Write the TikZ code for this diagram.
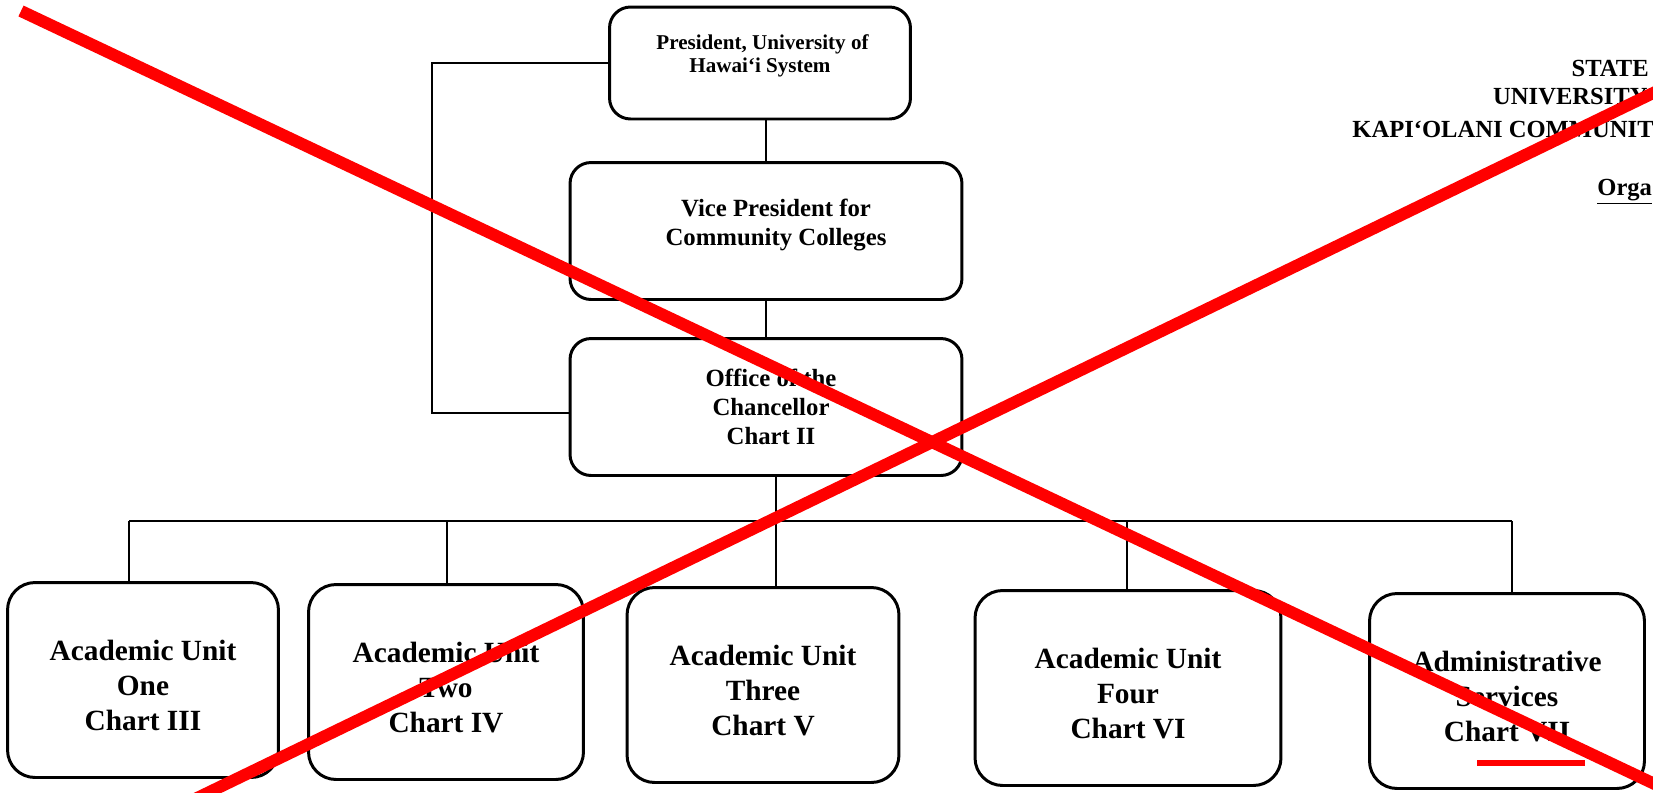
\documentclass[tikz,border=0pt]{standalone}
\usepackage{fontspec}
\setmainfont{Liberation Serif}
\usepackage{tikz}
\usetikzlibrary{positioning}

\begin{document}
\begin{tikzpicture}[x=0.02cm,y=-0.02cm,
        wire/.style={line width=1.6pt},
        topbox/.style={draw,line width=1.7pt,rounded corners=0.42cm,align=center,inner sep=0pt,
          font=\bfseries\fontsize{14.1}{16.6}\selectfont},
        unitbox/.style={draw,line width=1.7pt,rounded corners=0.55cm,align=center,inner sep=0pt,
          minimum height=3.9cm,font=\bfseries\fontsize{16.7}{19.9}\selectfont},
        head/.style={inner sep=0pt,font=\bfseries\fontsize{14}{17}\selectfont},
        cross/.style={draw=red,line width=0.24cm}]
    \useasboundingbox (0,0) rectangle (1653,792);

      \node[topbox,minimum width=6.02cm,minimum height=2.24cm,
            font=\bfseries\fontsize{12}{13.2}\selectfont]          (pres) at (760,63)  {\hspace*{0.1cm}President, University of\\Hawai‘i System\\[-2.4pt]};
      \node[topbox,minimum width=7.84cm,minimum height=2.74cm] (vp)   at (766,231) {\hspace*{0.4cm}Vice President for\\\hspace*{0.4cm}Community Colleges\\[-6.9pt]};
      \node[topbox,minimum width=7.84cm,minimum height=2.74cm] (chan) at (766,407) {\hspace*{0.2cm}Office of the\\\hspace*{0.2cm}Chancellor\\\hspace*{0.2cm}Chart II};

      \node[unitbox,minimum width=5.42cm] (u1) at (143,680)  {\mbox{}\\[-2pt]Academic Unit\\One\\Chart III};
      \node[unitbox,minimum width=5.5cm]  (u2) at (446,682)  {\mbox{}\\[-2pt]Academic Unit\\Two\\Chart IV};
      \node[unitbox,minimum width=5.44cm] (u3) at (763,685)  {\mbox{}\\[-2pt]Academic Unit\\Three\\Chart V};
      \node[unitbox,minimum width=6.12cm] (u4) at (1128,688) {\mbox{}\\[-2pt]Academic Unit\\Four\\Chart VI};
      \node[unitbox,minimum width=5.5cm]  (u5) at (1507,691) {\mbox{}\\[-2pt]Administrative\\Services\\Chart VII};

      % title block, cut off at the page edge
      \node[head,anchor=east] (state) at (1649,68)  {STATE};
      \node[head,anchor=east] (univ)  at (1648,97)  {UNIVERSITY};
      \node[head,anchor=west] (kcc)   at (1352,129) {KAPI‘OLANI COMMUNIT};
      \node[head,anchor=west] (orga)  at (1597,192) {\underline{Orga}};

      \coordinate (loop) at (432,413);
      \coordinate (d1) at (129,521);
      \coordinate (d2) at (447,521);
      \coordinate (d3) at (776,521);
      \coordinate (d4) at (1127,521);
      \coordinate (d5) at (1512,521);

      \draw[wire] (vp.north |- pres.south) -- (vp.north);
      \draw[wire] (vp.south) -- (chan.north);
      \draw[wire] (pres.west) -| (loop) -- (loop -| chan.west);
      \draw[wire] (chan.south -| d3) -- (d3);
      \draw[wire] (d1) -- (d5);
      \foreach \i in {1,...,5}
        \draw[wire] (d\i) -- (d\i |- u\i.north);

      % the red cross over the chart
      \coordinate (xa1) at (21,11);
      \coordinate (xa2) at (1680,796);
      \coordinate (xb1) at (195,799);
      \coordinate (xb2) at (1680,80);
      \draw[cross] (xa1) -- (xa2);
      \draw[cross] (xb1) -- (xb2);
      \draw[draw=red,line width=0.12cm] (1477,763) -- (1585,763);
    \end{tikzpicture}
\end{document}
